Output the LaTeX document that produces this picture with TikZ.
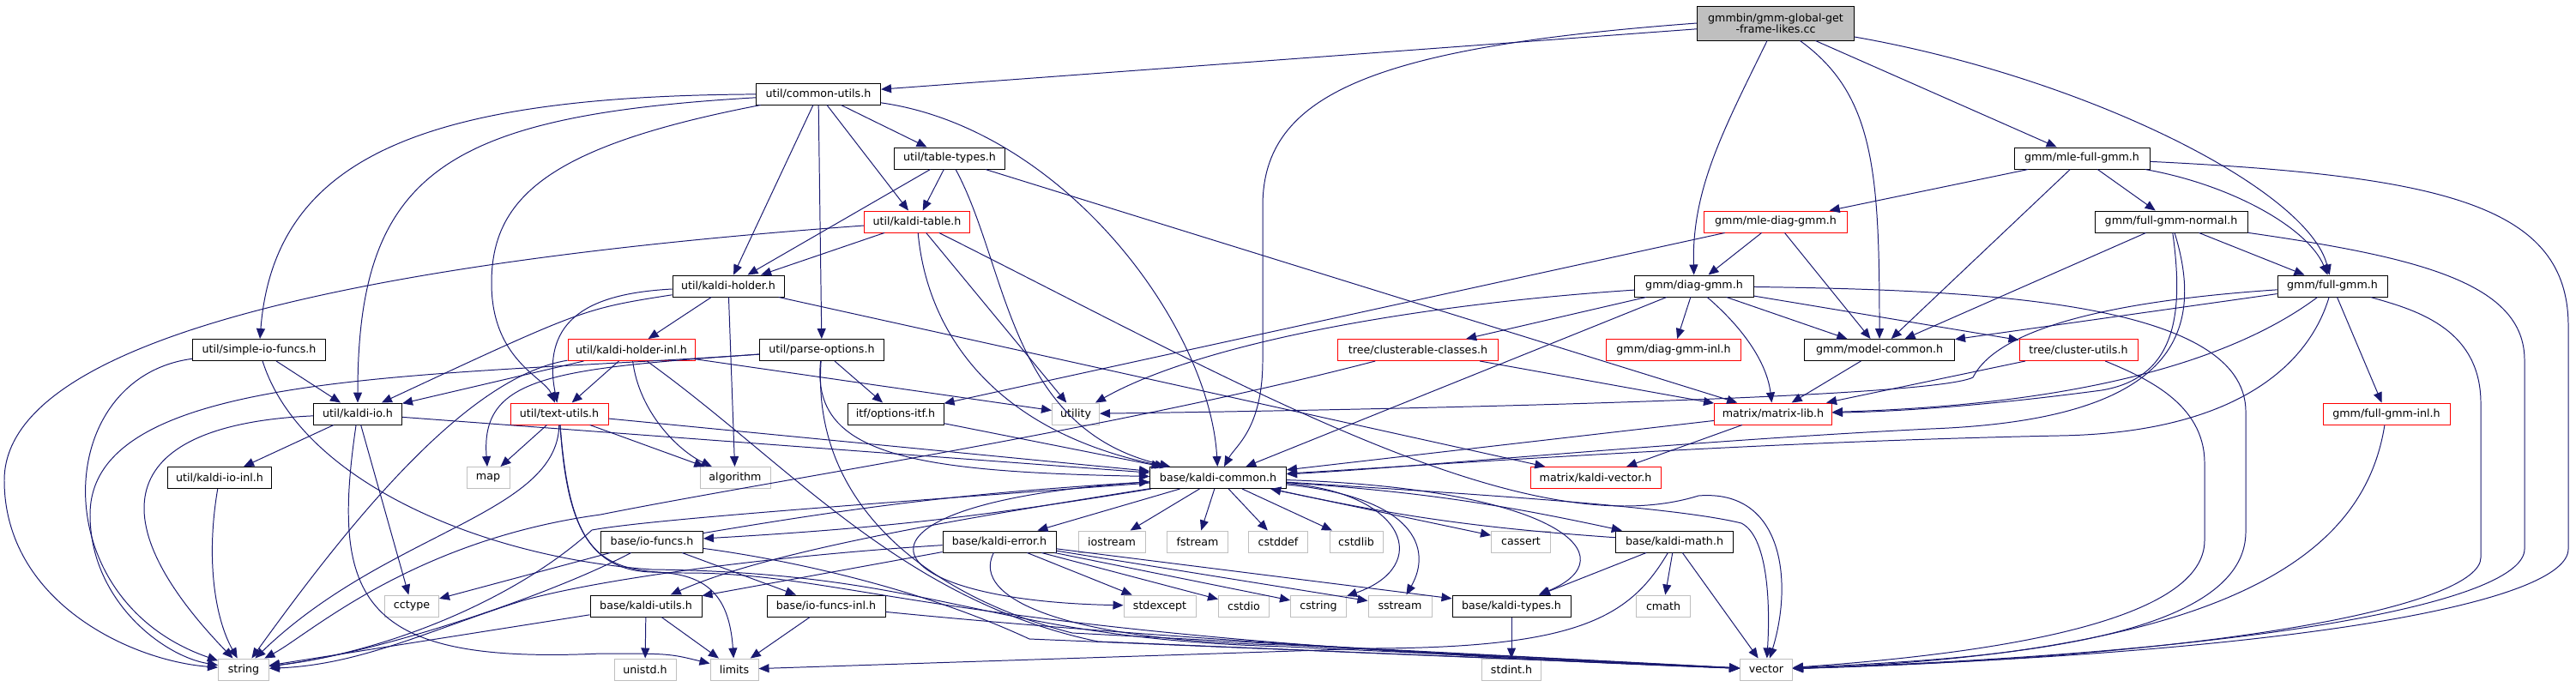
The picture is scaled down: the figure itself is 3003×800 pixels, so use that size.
\documentclass[tikz,border=0pt]{standalone}
\usepackage{fontspec}
\setmainfont{DejaVu Sans}
\definecolor{doxyblue}{RGB}{25,25,112}
\definecolor{doxygray}{RGB}{191,191,191}
\usetikzlibrary{arrows.meta}

\begin{document}
\begin{tikzpicture}[x=0.25mm, y=-0.25mm,
    box/.style={draw=black, fill=white, line width=0.7pt, rectangle, inner sep=0pt,
        minimum height=6.25mm, font=\fontsize{9}{9.5}\selectfont},
    redbox/.style={box, draw=red},
    sysbox/.style={box, draw=doxygray},
    arr/.style={-{Triangle[length=3mm, width=2.5mm]}, doxyblue, line width=0.7pt}
  ]
  \path[fill=white, use as bounding box] (0,0) rectangle (3003,800);

  \node[box, fill=doxygray, minimum width=45.75mm, minimum height=10mm, align=center] (src) at (2070,27) {gmmbin/gmm-global-get\\-frame-likes.cc};
  \node[box, minimum width=36.25mm] (cu) at (954,109.5) {util/common-utils.h};
  \node[box, minimum width=32.25mm] (tt) at (1107,184.5) {util/table-types.h};
  \node[box, minimum width=39.5mm] (mfg) at (2427,184.5) {gmm/mle-full-gmm.h};
  \node[redbox, minimum width=30.75mm] (kt) at (1069,258.5) {util/kaldi-table.h};
  \node[redbox, minimum width=41.75mm] (mdg) at (2070,258.5) {gmm/mle-diag-gmm.h};
  \node[box, minimum width=44.5mm] (fgn) at (2531,258.5) {gmm/full-gmm-normal.h};
  \node[box, minimum width=32.5mm] (kh) at (849,333.5) {util/kaldi-holder.h};
  \node[box, minimum width=34.75mm] (dg) at (1975,333.5) {gmm/diag-gmm.h};
  \node[box, minimum width=32mm] (fg) at (2719,333.5) {gmm/full-gmm.h};
  \node[box, minimum width=38.75mm] (sif) at (302,408) {util/simple-io-funcs.h};
  \node[redbox, minimum width=37mm] (khi) at (736,408) {util/kaldi-holder-inl.h};
  \node[box, minimum width=36.25mm] (po) at (958,408) {util/parse-options.h};
  \node[redbox, minimum width=46.75mm] (cc) at (1653,408) {tree/clusterable-classes.h};
  \node[redbox, minimum width=39.25mm] (dgi) at (1951,408) {gmm/diag-gmm-inl.h};
  \node[box, minimum width=43.75mm] (mc) at (2191,408) {gmm/model-common.h};
  \node[redbox, minimum width=34.5mm] (cut) at (2423,408) {tree/cluster-utils.h};
  \node[box, minimum width=25.75mm] (kio) at (417,482.5) {util/kaldi-io.h};
  \node[redbox, minimum width=28.5mm] (tu) at (652,482.5) {util/text-utils.h};
  \node[box, minimum width=28mm] (oi) at (1044,482.5) {itf/options-itf.h};
  \node[sysbox, minimum width=13.75mm] (util) at (1254,482.5) {utility};
  \node[redbox, minimum width=34.25mm] (ml) at (2067,482.5) {matrix/matrix-lib.h};
  \node[redbox, minimum width=37mm] (fgi) at (2782,482.5) {gmm/full-gmm-inl.h};
  \node[box, minimum width=30.25mm] (kioi) at (256,557) {util/kaldi-io-inl.h};
  \node[sysbox, minimum width=12.5mm] (map) at (569,557) {map};
  \node[sysbox, minimum width=20.5mm] (alg) at (857,557) {algorithm};
  \node[box, minimum width=39.75mm] (kc) at (1420,557) {base/kaldi-common.h};
  \node[redbox, minimum width=38mm] (kv) at (1860,557) {matrix/kaldi-vector.h};
  \node[box, minimum width=29.75mm] (iof) at (760,631.5) {base/io-funcs.h};
  \node[box, minimum width=33mm] (ke) at (1165,631.5) {base/kaldi-error.h};
  \node[sysbox, minimum width=19.5mm] (ios) at (1296,631.5) {iostream};
  \node[sysbox, minimum width=17.75mm] (fst) at (1396,631.5) {fstream};
  \node[sysbox, minimum width=17.25mm] (cdef) at (1490,631.5) {cstddef};
  \node[sysbox, minimum width=15.5mm] (clib) at (1581,631.5) {cstdlib};
  \node[sysbox, minimum width=17.25mm] (cas) at (1773,631.5) {cassert};
  \node[box, minimum width=34.25mm] (km) at (1952,631.5) {base/kaldi-math.h};
  \node[sysbox, minimum width=15.75mm] (cty) at (480,706.5) {cctype};
  \node[box, minimum width=32.5mm] (ku) at (753,706.5) {base/kaldi-utils.h};
  \node[box, minimum width=34.5mm] (iofi) at (963,706.5) {base/io-funcs-inl.h};
  \node[sysbox, minimum width=21mm] (sexc) at (1352,706.5) {stdexcept};
  \node[sysbox, minimum width=14.75mm] (cio) at (1450,706.5) {cstdio};
  \node[sysbox, minimum width=16.25mm] (cstr) at (1537,706.5) {cstring};
  \node[sysbox, minimum width=18.5mm] (sst) at (1632,706.5) {sstream};
  \node[box, minimum width=34.5mm] (kty) at (1762,706.5) {base/kaldi-types.h};
  \node[sysbox, minimum width=15.75mm] (cmath) at (1939,706.5) {cmath};
  \node[sysbox, minimum width=14.75mm] (str) at (284,780.5) {string};
  \node[sysbox, minimum width=18mm] (uni) at (752,780.5) {unistd.h};
  \node[sysbox, minimum width=14mm] (lim) at (856,780.5) {limits};
  \node[sysbox, minimum width=17.25mm] (sint) at (1762,780.5) {stdint.h};
  \node[sysbox, minimum width=15.25mm] (vec) at (2059,780.5) {vector};

  \draw[arr] (src) -- (cu);
  \draw[arr] (src.west) .. controls (1600,55) and (1472,110) .. (1472,240) -- (1472,420) .. controls (1472,500) and (1440,520) .. (kc);
  \draw[arr] (src) .. controls (2010,150) and (1972,220) .. (dg);
  \draw[arr] (src) .. controls (2185,110) and (2191,200) .. (mc);
  \draw[arr] (src) -- (mfg);
  \draw[arr] (src) .. controls (2430,90) and (2690,220) .. (fg);

  \draw[arr] (cu) .. controls (500,112) and (320,180) .. (sif);
  \draw[arr] (cu) .. controls (520,135) and (417,200) .. (kio);
  \draw[arr] (cu) .. controls (640,170) and (573,230) .. (573,330) .. controls (573,420) and (635,440) .. (tu);
  \draw[arr] (cu) -- (kh);
  \draw[arr] (cu) -- (po);
  \draw[arr] (cu) -- (kt);
  \draw[arr] (cu) -- (tt);
  \draw[arr] (cu) .. controls (1240,150) and (1410,380) .. (kc);

  \draw[arr] (tt) -- (kh);
  \draw[arr] (tt) -- (kt);
  \draw[arr] (tt) .. controls (1175,310) and (1175,500) .. (kc);
  \draw[arr] (tt) -- (ml);

  \draw[arr] (kt) -- (kh);
  \draw[arr] (kt) .. controls (500,300) and (5,380) .. (5,560) .. controls (5,700) and (150,770) .. (str);
  \draw[arr] (kt) -- (util);
  \draw[arr] (kt) .. controls (1450,450) and (1780,640) .. (1980,578) .. controls (2080,570) and (2090,680) .. (vec);
  \draw[arr] (kt) .. controls (1080,380) and (1150,500) .. (kc);

  \draw[arr] (kh) .. controls (680,360) .. (kio);
  \draw[arr] (kh) .. controls (690,342) and (630,370) .. (tu);
  \draw[arr] (kh) -- (khi);
  \draw[arr] (kh) -- (alg);
  \draw[arr] (kh) -- (kv);

  \draw[arr] (khi) -- (kio);
  \draw[arr] (khi) -- (tu);
  \draw[arr] (khi) .. controls (745,480) and (790,525) .. (alg);
  \draw[arr] (khi) -- (util);
  \draw[arr] (khi) .. controls (540,440) and (400,620) .. (str);
  \draw[arr] (khi) .. controls (920,540) and (1050,700) .. (1280,748) -- (vec);

  \draw[arr] (po) -- (oi);
  \draw[arr] (po) .. controls (945,530) and (1060,550) .. (kc);
  \draw[arr] (po) .. controls (640,430) and (560,440) .. (map);
  \draw[arr] (po) .. controls (500,440) and (105,430) .. (105,600) .. controls (105,700) and (190,765) .. (str);
  \draw[arr] (po) .. controls (945,600) and (1100,700) .. (1250,738) -- (vec);

  \draw[arr] (oi) -- (kc);

  \draw[arr] (tu) -- (map);
  \draw[arr] (tu) .. controls (650,600) and (450,620) .. (str);
  \draw[arr] (tu) -- (alg);
  \draw[arr] (tu) .. controls (660,600) and (680,665) .. (760,667) .. controls (820,668) and (850,690) .. (lim);
  \draw[arr] (tu) .. controls (665,650) and (700,668) .. (800,668) .. controls (1000,668) and (1100,745) .. (vec);
  \draw[arr] (tu) -- (kc);

  \draw[arr] (kio) .. controls (140,495) and (110,600) .. (str);
  \draw[arr] (kio) -- (kioi);
  \draw[arr] (kio) -- (cty);
  \draw[arr] (kio) .. controls (385,700) and (420,775) .. (700,762) .. controls (780,762) .. (lim);
  \draw[arr] (kio) -- (kc);

  \draw[arr] (kioi) .. controls (240,650) and (250,720) .. (str);

  \draw[arr] (sif) -- (kio);
  \draw[arr] (sif) .. controls (60,440) and (50,700) .. (str);
  \draw[arr] (sif) .. controls (350,560) and (560,650) .. (760,664) .. controls (1100,668) and (1150,745) .. (1500,754) -- (vec);

  \draw[arr] (dg) .. controls (1650,355) and (1400,400) .. (util);
  \draw[arr] (dg) -- (kc);
  \draw[arr] (dg) -- (cc);
  \draw[arr] (dg) -- (dgi);
  \draw[arr] (dg) .. controls (2035,385) and (2060,425) .. (ml);
  \draw[arr] (dg) -- (mc);
  \draw[arr] (dg) -- (cut);
  \draw[arr] (dg) .. controls (2300,338) and (2618,350) .. (2618,480) -- (2618,620) .. controls (2618,760) and (2250,770) .. (vec);

  \draw[arr] (mdg) -- (dg);
  \draw[arr] (mdg) -- (mc);
  \draw[arr] (mdg) -- (oi);

  \draw[arr] (mfg) -- (mdg);
  \draw[arr] (mfg) -- (fgn);
  \draw[arr] (mfg) .. controls (2600,215) and (2690,265) .. (fg);
  \draw[arr] (mfg) -- (mc);
  \draw[arr] (mfg) .. controls (2850,205) and (2994,240) .. (2994,380) -- (2994,640) .. controls (2994,700) and (2700,760) .. (vec);

  \draw[arr] (fgn) -- (fg);
  \draw[arr] (fgn) -- (mc);
  \draw[arr] (fgn) .. controls (2545,360) and (2540,440) .. (2450,455) .. controls (2300,475) and (2200,480) .. (ml);
  \draw[arr] (fgn) .. controls (2575,400) and (2520,490) .. (2250,500) .. controls (1950,515) and (1650,545) .. (kc);
  \draw[arr] (fgn) .. controls (2820,300) and (2943,330) .. (2943,420) -- (2943,640) .. controls (2943,700) and (2650,760) .. (vec);

  \draw[arr] (fg) -- (mc);
  \draw[arr] (fg) .. controls (2400,355) and (2320,400) .. (2300,440) .. controls (2250,465) and (1600,478) .. (util);
  \draw[arr] (fg) -- (fgi);
  \draw[arr] (fg) .. controls (2630,400) and (2480,470) .. (ml);
  \draw[arr] (fg) .. controls (2690,430) and (2600,505) .. (2400,508) .. controls (2050,515) and (1700,540) .. (kc);
  \draw[arr] (fg) .. controls (2810,360) and (2892,380) .. (2892,470) -- (2892,650) .. controls (2892,705) and (2600,765) .. (vec);

  \draw[arr] (mc) -- (ml);
  \draw[arr] (cut) -- (ml);
  \draw[arr] (cut) .. controls (2500,440) and (2570,470) .. (2570,540) -- (2570,630) .. controls (2570,720) and (2350,760) .. (vec);
  \draw[arr] (cc) -- (ml);
  \draw[arr] (cc) .. controls (1300,500) and (900,560) .. (700,600) .. controls (480,630) and (360,740) .. (str);
  \draw[arr] (fgi) .. controls (2760,620) and (2650,760) .. (vec);

  \draw[arr] (ml) -- (kc);
  \draw[arr] (ml) -- (kv);

  \draw[arr] (kc) -- (ke);
  \draw[arr] (kc) -- (ios);
  \draw[arr] (kc) -- (fst);
  \draw[arr] (kc) -- (cdef);
  \draw[arr] (kc) -- (clib);
  \draw[arr] (kc) -- (cas);
  \draw[arr] (kc) to[bend left=4] (km);
  \draw[arr] (km) to[bend left=4] (kc);
  \draw[arr] (kc) .. controls (1640,575) and (1670,660) .. (cstr);
  \draw[arr] (kc) .. controls (1650,580) and (1670,640) .. (sst);
  \draw[arr] (kc) .. controls (1820,570) and (1900,650) .. (kty);
  \draw[arr] (kc) .. controls (1700,575) and (1950,590) .. (2030,610) .. controls (2060,625) and (2064,700) .. (vec);
  \draw[arr] (kc) .. controls (1050,585) and (760,605) .. (690,618) .. controls (600,700) and (450,760) .. (str);
  \draw[arr] (kc) to[bend left=3] (iof);
  \draw[arr] (iof) to[bend left=3] (kc);
  \draw[arr] (kc) .. controls (1150,600) and (900,640) .. (ku);
  \draw[arr] (kc) .. controls (960,585) and (1000,700) .. (sexc);

  \draw[arr] (ke) -- (sexc);
  \draw[arr] (ke) -- (cio);
  \draw[arr] (ke) -- (cstr);
  \draw[arr] (ke) -- (sst);
  \draw[arr] (ke) -- (kty);
  \draw[arr] (ke) .. controls (900,648) and (700,675) .. (610,700) .. controls (500,735) and (420,775) .. (str);
  \draw[arr] (ke) -- (ku);
  \draw[arr] (ke) .. controls (1130,700) and (1250,748) .. (1500,752) -- (vec);

  \draw[arr] (iof) -- (cty);
  \draw[arr] (iof) .. controls (650,690) and (450,760) .. (str);
  \draw[arr] (iof) -- (iofi);
  \draw[arr] (iof) .. controls (900,650) and (1060,680) .. (1200,745) -- (vec);

  \draw[arr] (ku) -- (uni);
  \draw[arr] (ku) -- (lim);
  \draw[arr] (ku) -- (str);

  \draw[arr] (iofi) -- (lim);
  \draw[arr] (iofi) .. controls (1300,740) and (1700,765) .. (vec);

  \draw[arr] (km) -- (kty);
  \draw[arr] (km) -- (cmath);
  \draw[arr] (km) -- (vec);
  \draw[arr] (km) .. controls (1900,720) and (1840,755) .. (1600,756) -- (lim);
  \draw[arr] (kty) -- (sint);
\end{tikzpicture}
\end{document}
